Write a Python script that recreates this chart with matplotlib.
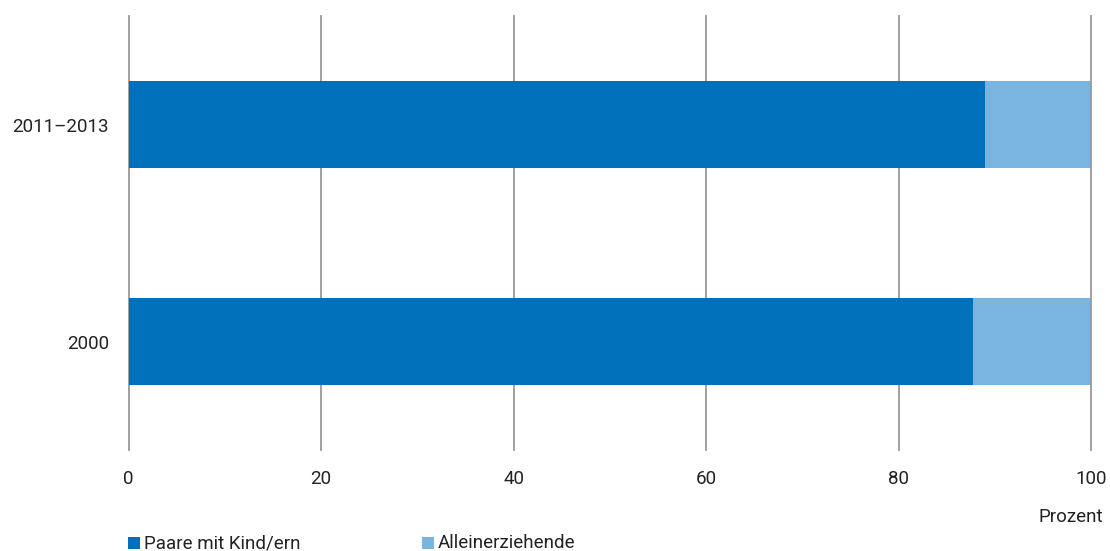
import matplotlib
matplotlib.use("Agg")
import matplotlib.pyplot as plt
from matplotlib.patches import Rectangle

plt.rcParams["font.family"] = ["Roboto", "DejaVu Sans"]

# data
periods = ["2000", "2011–2013"]
paare = [87.7, 89.0]
allein = [12.3, 11.0]
series_names = ["Paare mit Kind/ern", "Alleinerziehende"]
colors = ["#0070BA", "#7AB5E2"]
ticks = [0, 20, 40, 60, 80, 100]

W, H = 1110, 551
FS = 13.5
TXT = "#222222"

fig = plt.figure(figsize=(W / 100, H / 100), dpi=100)
ax = fig.add_axes([0.1158, 0.183, 0.8672, 0.788])

ypos = range(len(periods))
ax.barh(ypos, paare, height=0.4, color=colors[0], zorder=2)
ax.barh(ypos, allein, left=paare, height=0.4, color=colors[1], zorder=2)

ax.set_xlim(0, 100)
ax.set_ylim(-0.5, 1.5)
ax.set_xticks(ticks)
ax.set_yticks(list(ypos))
ax.set_yticklabels(periods)
for x in ticks:
    ax.axvline(x, color="#999999", linewidth=1.3, zorder=3 if x == 100 else 1,
               clip_on=False)

for s in ax.spines.values():
    s.set_visible(False)
ax.tick_params(axis="both", length=0, labelsize=FS, colors=TXT)
ax.tick_params(axis="x", pad=14)
ax.tick_params(axis="y", pad=14)

fig.text(1103 / W, 1 - 517 / H, "Prozent", ha="right", va="center",
         fontsize=FS, color=TXT)

# legend, drawn by hand so the squares sit where the reference has them
for name, color, x0 in zip(series_names, colors, [128, 422]):
    fig.patches.append(Rectangle((x0 / W, 1 - 549 / H), 12 / W, 12 / H,
                                 transform=fig.transFigure, facecolor=color,
                                 edgecolor="none"))
    fig.text((x0 + 16) / W, 1 - 543 / H, name, ha="left", va="center",
             fontsize=FS, color=TXT)

fig.savefig("out.png", dpi=100)
